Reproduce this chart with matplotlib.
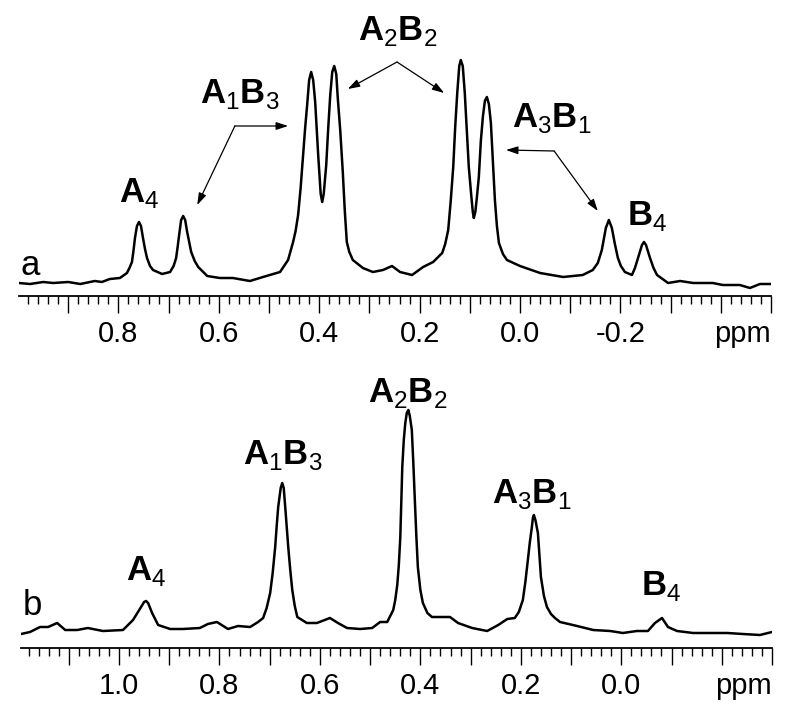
import matplotlib
matplotlib.use("Agg")
import matplotlib.pyplot as plt
from matplotlib.ticker import MultipleLocator

plt.rcParams.update({'font.family': 'Liberation Sans',
                     'mathtext.fontset': 'custom',
                     'mathtext.rm': 'Liberation Sans',
                     'mathtext.bf': 'Liberation Sans:bold'})

# ---- spectrum a ----
ppm_a = [0.998, 0.976, 0.950, 0.930, 0.900, 0.876, 0.847, 0.833, 0.817, 0.797,
         0.783, 0.778, 0.773, 0.770, 0.767, 0.763, 0.759, 0.755, 0.751, 0.747,
         0.743, 0.737, 0.731, 0.713, 0.697, 0.690, 0.685, 0.682, 0.679, 0.675,
         0.671, 0.667, 0.663, 0.659, 0.655, 0.648, 0.641, 0.623, 0.598, 0.572,
         0.538, 0.512, 0.478, 0.462, 0.452, 0.447, 0.442, 0.437, 0.432, 0.428,
         0.424, 0.420, 0.416, 0.412, 0.408, 0.402, 0.397, 0.394, 0.391, 0.386,
         0.382, 0.378, 0.374, 0.370, 0.366, 0.363, 0.358, 0.353, 0.349, 0.345,
         0.340, 0.333, 0.313, 0.293, 0.273, 0.255, 0.239, 0.215, 0.193, 0.173,
         0.155, 0.149, 0.143, 0.138, 0.133, 0.129, 0.125, 0.121, 0.118, 0.114,
         0.110, 0.106, 0.102, 0.097, 0.094, 0.092, 0.089, 0.086, 0.082, 0.078,
         0.074, 0.070, 0.066, 0.062, 0.058, 0.054, 0.050, 0.046, 0.042, 0.034,
         0.026, 0.000, -0.040, -0.086, -0.125, -0.145, -0.155, -0.163, -0.167, -0.171,
         -0.177, -0.183, -0.189, -0.195, -0.201, -0.209, -0.223, -0.229, -0.235, -0.243,
         -0.247, -0.251, -0.259, -0.266, -0.273, -0.295, -0.319, -0.345, -0.384, -0.404,
         -0.438, -0.458, -0.478, -0.500]
int_a = [13, 12, 14, 13, 14, 12, 15, 14, 17, 18,
         23, 28, 34, 45, 58, 70, 74, 70, 58, 47,
         38, 30, 26, 22, 24, 30, 38, 49, 61, 76,
         80, 76, 64, 54, 44, 35, 29, 20, 18, 18,
         15, 19, 24, 36, 54, 65, 81, 108, 141, 168,
         191, 216, 224, 216, 194, 141, 102, 94, 102, 131,
         168, 201, 224, 230, 222, 198, 165, 124, 85, 54,
         44, 36, 28, 24, 26, 30, 24, 21, 29, 34,
         43, 52, 66, 95, 129, 170, 203, 230, 236, 230,
         203, 165, 129, 100, 84, 78, 84, 98, 119, 155,
         179, 195, 199, 192, 173, 135, 96, 70, 53, 42,
         36, 30, 23, 19, 21, 26, 33, 46, 57, 68,
         76, 68, 52, 38, 30, 24, 21, 28, 38, 51,
         54, 51, 38, 28, 21, 13, 15, 13, 13, 11,
         11, 8, 12, 12]

# ---- spectrum b ----
ppm_b = [1.195, 1.177, 1.157, 1.141, 1.123, 1.107, 1.083, 1.062, 1.032, 0.992,
         0.972, 0.956, 0.950, 0.946, 0.942, 0.934, 0.922, 0.898, 0.873, 0.839,
         0.823, 0.805, 0.783, 0.763, 0.739, 0.723, 0.713, 0.706, 0.699, 0.694,
         0.689, 0.686, 0.683, 0.678, 0.675, 0.672, 0.669, 0.666, 0.663, 0.659,
         0.655, 0.650, 0.645, 0.626, 0.606, 0.580, 0.564, 0.546, 0.520, 0.496,
         0.480, 0.466, 0.454, 0.450, 0.446, 0.443, 0.440, 0.438, 0.436, 0.433,
         0.430, 0.427, 0.424, 0.421, 0.417, 0.414, 0.411, 0.408, 0.405, 0.400,
         0.395, 0.386, 0.377, 0.357, 0.341, 0.325, 0.297, 0.267, 0.245, 0.227,
         0.212, 0.204, 0.196, 0.191, 0.186, 0.182, 0.178, 0.176, 0.174, 0.171,
         0.166, 0.163, 0.160, 0.154, 0.148, 0.140, 0.132, 0.122, 0.088, 0.056,
         0.022, -0.003, -0.031, -0.053, -0.067, -0.081, -0.093, -0.111, -0.143, -0.177,
         -0.211, -0.242, -0.276, -0.300]
int_b = [14, 16, 21, 21, 25, 18, 18, 20, 17, 18,
         28, 41, 46, 47, 45, 35, 23, 19, 19, 20,
         24, 26, 19, 22, 21, 26, 30, 40, 55, 75,
         101, 122, 141, 160, 165, 160, 141, 121, 101, 78,
         58, 42, 31, 25, 25, 30, 25, 20, 19, 20,
         26, 26, 38, 48, 63, 82, 110, 145, 181, 208,
         225, 235, 238, 232, 218, 185, 148, 112, 81, 58,
         45, 35, 31, 31, 31, 25, 20, 17, 23, 29,
         30, 36, 48, 66, 88, 106, 121, 130, 133, 128,
         115, 93, 71, 52, 41, 34, 30, 26, 22, 18,
         17, 15, 17, 17, 25, 30, 21, 17, 15, 15,
         15, 14, 13, 16]

# ---- axis ticks and labels ----
ticks_a = [0.9, 0.8, 0.7, 0.6, 0.5, 0.4, 0.3, 0.2, 0.1, 0.0, -0.1, -0.2, -0.3, -0.4, -0.5]
labels_a = ['', '0.8', '', '0.6', '', '0.4', '', '0.2', '', '0.0', '', '-0.2', '', '', 'ppm']
ticks_b = [1.1, 1.0, 0.9, 0.8, 0.7, 0.6, 0.5, 0.4, 0.3, 0.2, 0.1, 0.0, -0.1, -0.2, -0.3]
labels_b = ['', '1.0', '', '0.8', '', '0.6', '', '0.4', '', '0.2', '', '0.0', '', '', 'ppm']

# ---- peak labels: (text, ppm, height) ----
peaks_a = [(r'$\mathbf{A}_{\mathrm{4}}$', 0.759, 94),
           (r'$\mathbf{A}_{\mathrm{1}}\mathbf{B}_{\mathrm{3}}$', 0.558, 193),
           (r'$\mathbf{A}_{\mathrm{2}}\mathbf{B}_{\mathrm{2}}$', 0.243, 256),
           (r'$\mathbf{A}_{\mathrm{3}}\mathbf{B}_{\mathrm{1}}$', -0.064, 169),
           (r'$\mathbf{B}_{\mathrm{4}}$', -0.253, 71)]
peaks_b = [(r'$\mathbf{A}_{\mathrm{4}}$', 0.946, 68),
           (r'$\mathbf{A}_{\mathrm{1}}\mathbf{B}_{\mathrm{3}}$', 0.673, 184),
           (r'$\mathbf{A}_{\mathrm{2}}\mathbf{B}_{\mathrm{2}}$', 0.424, 246),
           (r'$\mathbf{A}_{\mathrm{3}}\mathbf{B}_{\mathrm{1}}$', 0.178, 145),
           (r'$\mathbf{B}_{\mathrm{4}}$', -0.079, 53)]

# arrows in panel a: (start ppm, start height, tip ppm, tip height)
arrows_a = [(0.568, 170, 0.462, 170), (0.568, 170, 0.643, 91),
            (0.245, 234, 0.343, 207), (0.245, 234, 0.151, 203),
            (-0.068, 145, 0.028, 146), (-0.068, 145, -0.155, 85)]

fig = plt.figure(figsize=(8, 7.11), dpi=100)
ax_a = fig.add_axes([19 / 800, 1 - 296 / 711, 752 / 800, 296 / 711])
ax_b = fig.add_axes([21 / 800, 1 - 648 / 711, 751 / 800, 293 / 711])


def style_axis(ax, ticks, labels, xlim, ylim):
    ax.set_xlim(xlim)
    ax.set_ylim(ylim)
    for s in ['top', 'right', 'left']:
        ax.spines[s].set_visible(False)
    ax.spines['bottom'].set_linewidth(1.3)
    ax.set_yticks([])
    ax.set_xticks(ticks)
    ax.set_xticklabels(labels, fontsize=21)
    ax.xaxis.set_minor_locator(MultipleLocator(0.02))
    ax.tick_params(axis='x', which='major', direction='out', length=12, width=1.0, pad=5)
    ax.tick_params(axis='x', which='minor', direction='out', length=6, width=1.0)
    ax.get_xticklabels()[-1].set_horizontalalignment('right')
    ax.patch.set_visible(False)


ax_a.plot(ppm_a, int_a, color='black', lw=1.8, solid_joinstyle='round')
style_axis(ax_a, ticks_a, labels_a, (0.998, -0.5), (0, 296))
for txt, x, y in peaks_a:
    ax_a.text(x, y, txt, fontsize=25, ha='center', va='baseline')
ax_a.text(0.996, 21, 'a', fontsize=25, ha='left', va='baseline')
for x0, y0, x1, y1 in arrows_a:
    ax_a.annotate('', xy=(x1, y1), xytext=(x0, y0),
                  arrowprops=dict(arrowstyle='-|>,head_length=0.55,head_width=0.18',
                                  lw=0.9, color='black', mutation_scale=13,
                                  shrinkA=0, shrinkB=0))

ax_b.plot(ppm_b, int_b, color='black', lw=1.8, solid_joinstyle='round')
style_axis(ax_b, ticks_b, labels_b, (1.195, -0.3), (0, 293))
for txt, x, y in peaks_b:
    ax_b.text(x, y, txt, fontsize=25, ha='center', va='baseline')
ax_b.text(1.191, 33, 'b', fontsize=25, ha='left', va='baseline')

plt.savefig('out.png', dpi=100)
